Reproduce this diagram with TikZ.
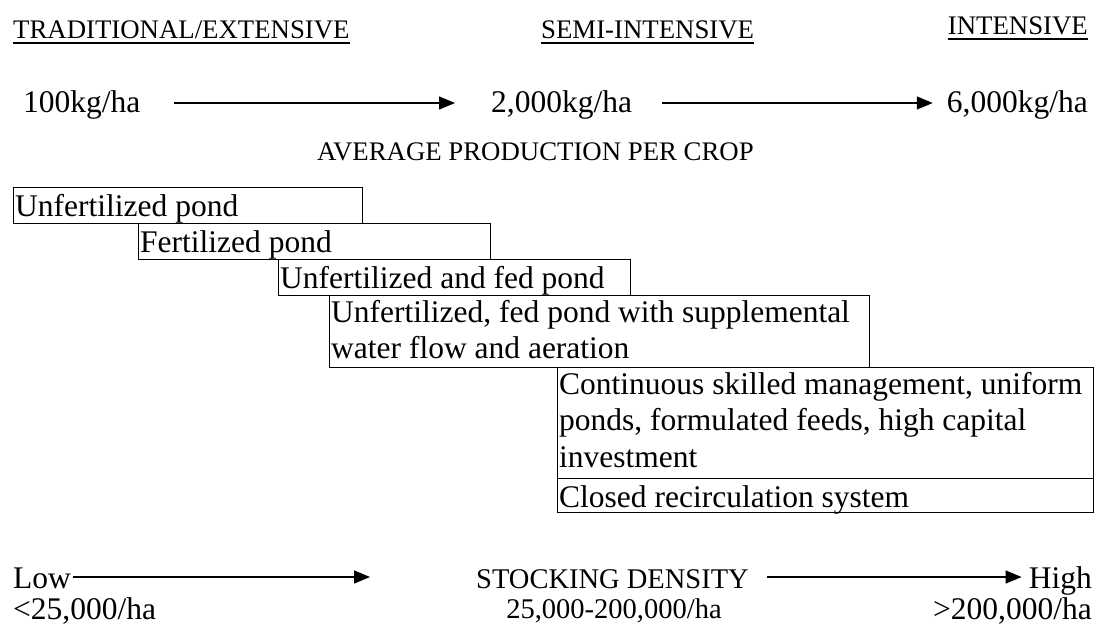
\documentclass[tikz,border=0pt]{standalone}
\usepackage{fontspec}
\setmainfont{Liberation Serif}
\usetikzlibrary{arrows.meta}
\newcommand\bigtxt{\fontsize{31.5}{36.5}\selectfont}
\newcommand\smalltxt{\fontsize{26.8}{31}\selectfont}
\newcommand\midtxt{\fontsize{28.5}{32}\selectfont}
\tikzset{
  big/.style={font=\bigtxt, inner sep=0pt},
  small/.style={font=\smalltxt, inner sep=0pt},
  midsize/.style={font=\midtxt, inner sep=0pt},
  boxc/.style={draw, line width=1.4pt, inner sep=0pt, anchor=north west},
  boxtext/.style={font=\bigtxt, inner sep=0pt, anchor=north west, align=left, execute at begin node={\rule{0pt}{24pt}}},
  arr/.style={line width=1.4pt, -{Triangle[length=16pt,width=13pt]}},
  uline/.style={line width=1.3pt},
}
\begin{document}
\begin{tikzpicture}[x=1pt,y=-1pt]
\useasboundingbox (0,0) rectangle (1104,626);
% top headings
\node[small, anchor=base west] (h1) at (13,39) {TRADITIONAL/EXTENSIVE};
\node[small, anchor=base west] (h2) at (541,39) {SEMI-INTENSIVE};
\node[small, anchor=base east] (h3) at (1088,35) {INTENSIVE};
\draw[uline] ([yshift=-4pt]h1.base west) -- ([yshift=-4pt]h1.base east);
\draw[uline] ([yshift=-4pt]h2.base west) -- ([yshift=-4pt]h2.base east);
\draw[uline] ([yshift=-4pt]h3.base west) -- ([yshift=-4pt]h3.base east);
% production row
\node[big, anchor=base west] (p1) at (23,113) {100kg/ha};
\node[big, anchor=base west] (p2) at (491,113) {2,000kg/ha};
\node[big, anchor=base east] (p3) at (1088,113) {6,000kg/ha};
\draw[arr, shorten <=33pt, shorten >=36pt] ([yshift=10pt]p1.base east) -- ([yshift=10pt]p2.base west);
\draw[arr, shorten <=30pt, shorten >=14pt] ([yshift=10pt]p2.base east) -- ([yshift=10pt]p3.base west);
\node[small, anchor=base west] (avg) at (317,160) {AVERAGE PRODUCTION PER CROP};
% boxes
\node[boxc, minimum width=349pt, minimum height=36pt] (b1) at (13,187) {};
\node[boxc, minimum width=352pt, minimum height=36pt] (b2) at (138,223) {};
\node[boxc, minimum width=352pt, minimum height=36pt] (b3) at (278,259) {};
\node[boxc, minimum width=540pt, minimum height=72pt] (b4) at (329,295) {};
\node[boxc, minimum width=536pt, minimum height=111pt] (b5) at (557,367) {};
\node[boxc, minimum width=536pt, minimum height=34pt] (b6) at (557,478) {};
\node[boxtext] (t1) at (15,192) {Unfertilized pond};
\node[boxtext] (t2) at (140,228) {Fertilized pond};
\node[boxtext] (t3) at (280,264) {Unfertilized and fed pond};
\node[boxtext] (t4) at (331,300) {Unfertilized, fed pond with supplemental\\water flow and aeration};
\node[boxtext] (t5) at (559,372) {Continuous skilled management, uniform\\ponds, formulated feeds, high capital\\investment};
\node[boxtext] (t6) at (559,483) {Closed recirculation system};
% stocking density row
\node[big, anchor=base west] (low) at (13,588) {Low};
\node[midsize, anchor=base west] (sd) at (476,588) {STOCKING DENSITY};
\node[big, anchor=base east] (high) at (1092,588) {High};
\node[big, anchor=base west] (lt) at (13,619) {<25,000/ha};
\node[midsize, anchor=base] (mid) at (614,618) {25,000-200,000/ha};
\node[big, anchor=base east] (gt) at (1092,619) {>200,000/ha};
\draw[arr, shorten <=2pt, shorten >=106pt] ([yshift=11pt]low.base east) -- ([yshift=11pt]sd.base west);
\draw[arr, shorten <=18pt, shorten >=7pt] ([yshift=11pt]sd.base east) -- ([yshift=11pt]high.base west);
\end{tikzpicture}
\end{document}
